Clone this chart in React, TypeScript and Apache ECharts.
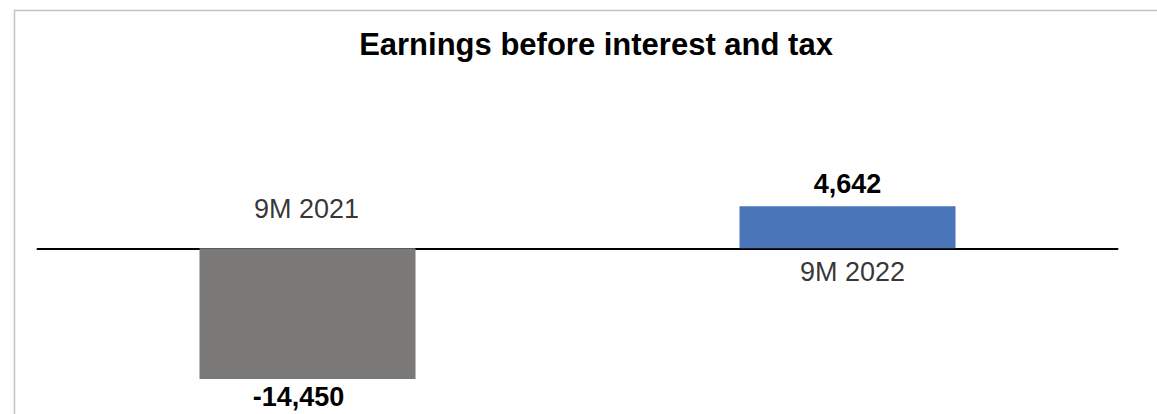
import React, { useEffect, useRef } from "react";
import * as echarts from "echarts";

const titleText = "Earnings before interest and tax";
const categories = ["9M 2021", "9M 2022"];
const values = [-14450, 4642];
const barColors = ["#7a7977", "#4a76b9"];

const FONT = "'Liberation Sans Narrow', 'Arial Narrow', 'Liberation Sans', Arial, sans-serif";

const fmt = (v: number) => (v < 0 ? "-" : "") + Math.abs(v).toLocaleString("en-US");

export default function App() {
  const ref = useRef<HTMLDivElement>(null);
  useEffect(() => {
    if (!ref.current) return;
    const chart = echarts.init(ref.current, undefined, { renderer: "svg" });
    chart.setOption({
      animation: false,
      backgroundColor: "#ffffff",
      title: {
        text: titleText,
        left: 591,
        top: 24,
        textAlign: "center",
        textStyle: { fontFamily: FONT, fontWeight: "bold", fontSize: 31, color: "#000" },
      },
      graphic: [
        {
          type: "rect",
          shape: { x: 14.5, y: 10.5, width: 1300, height: 600 },
          style: { fill: "none", stroke: "#c3c3c3", lineWidth: 1.5 },
          silent: true,
        },
      ],
      grid: { left: 37.5, right: 1157 - 1117.5, top: 139.7, bottom: 414 - 411.2 },
      xAxis: {
        type: "category",
        data: categories,
        axisLine: { onZero: true, lineStyle: { color: "#000", width: 2 } },
        axisTick: { show: false },
        axisLabel: { show: false },
        splitLine: { show: false },
      },
      yAxis: {
        type: "value",
        min: -18000,
        max: 12000,
        show: false,
        splitLine: { show: false },
      },
      series: [
        {
          type: "bar",
          barWidth: "40%",
          data: values.map((v, i) => ({
            value: v,
            itemStyle: { color: barColors[i] },
            label: {
              show: true,
              position: v < 0 ? "bottom" : "top",
              distance: v < 0 ? 4 : 9,
              offset: v < 0 ? [-9, 0] : [0, 0],
              formatter: () => fmt(v),
              fontFamily: FONT,
              fontWeight: "bold",
              fontSize: 27,
              color: "#000",
            },
          })),
        },
        {
          type: "scatter",
          symbolSize: 0,
          silent: true,
          z: 10,
          data: categories.map((c, i) => ({
            value: [c, 0],
            label: {
              show: true,
              position: values[i] < 0 ? "top" : "bottom",
              distance: values[i] < 0 ? 26 : 10,
              offset: values[i] < 0 ? [-1, 0] : [5, 0],
              formatter: c,
              fontFamily: FONT,
              fontSize: 27,
              color: "#000",
            },
          })),
        },
      ],
    });
    return () => chart.dispose();
  }, []);
  return (
    <div
      ref={ref}
      style={{ position: "fixed", left: 0, top: 0, width: 1157, height: 414 }}
    />
  );
}
